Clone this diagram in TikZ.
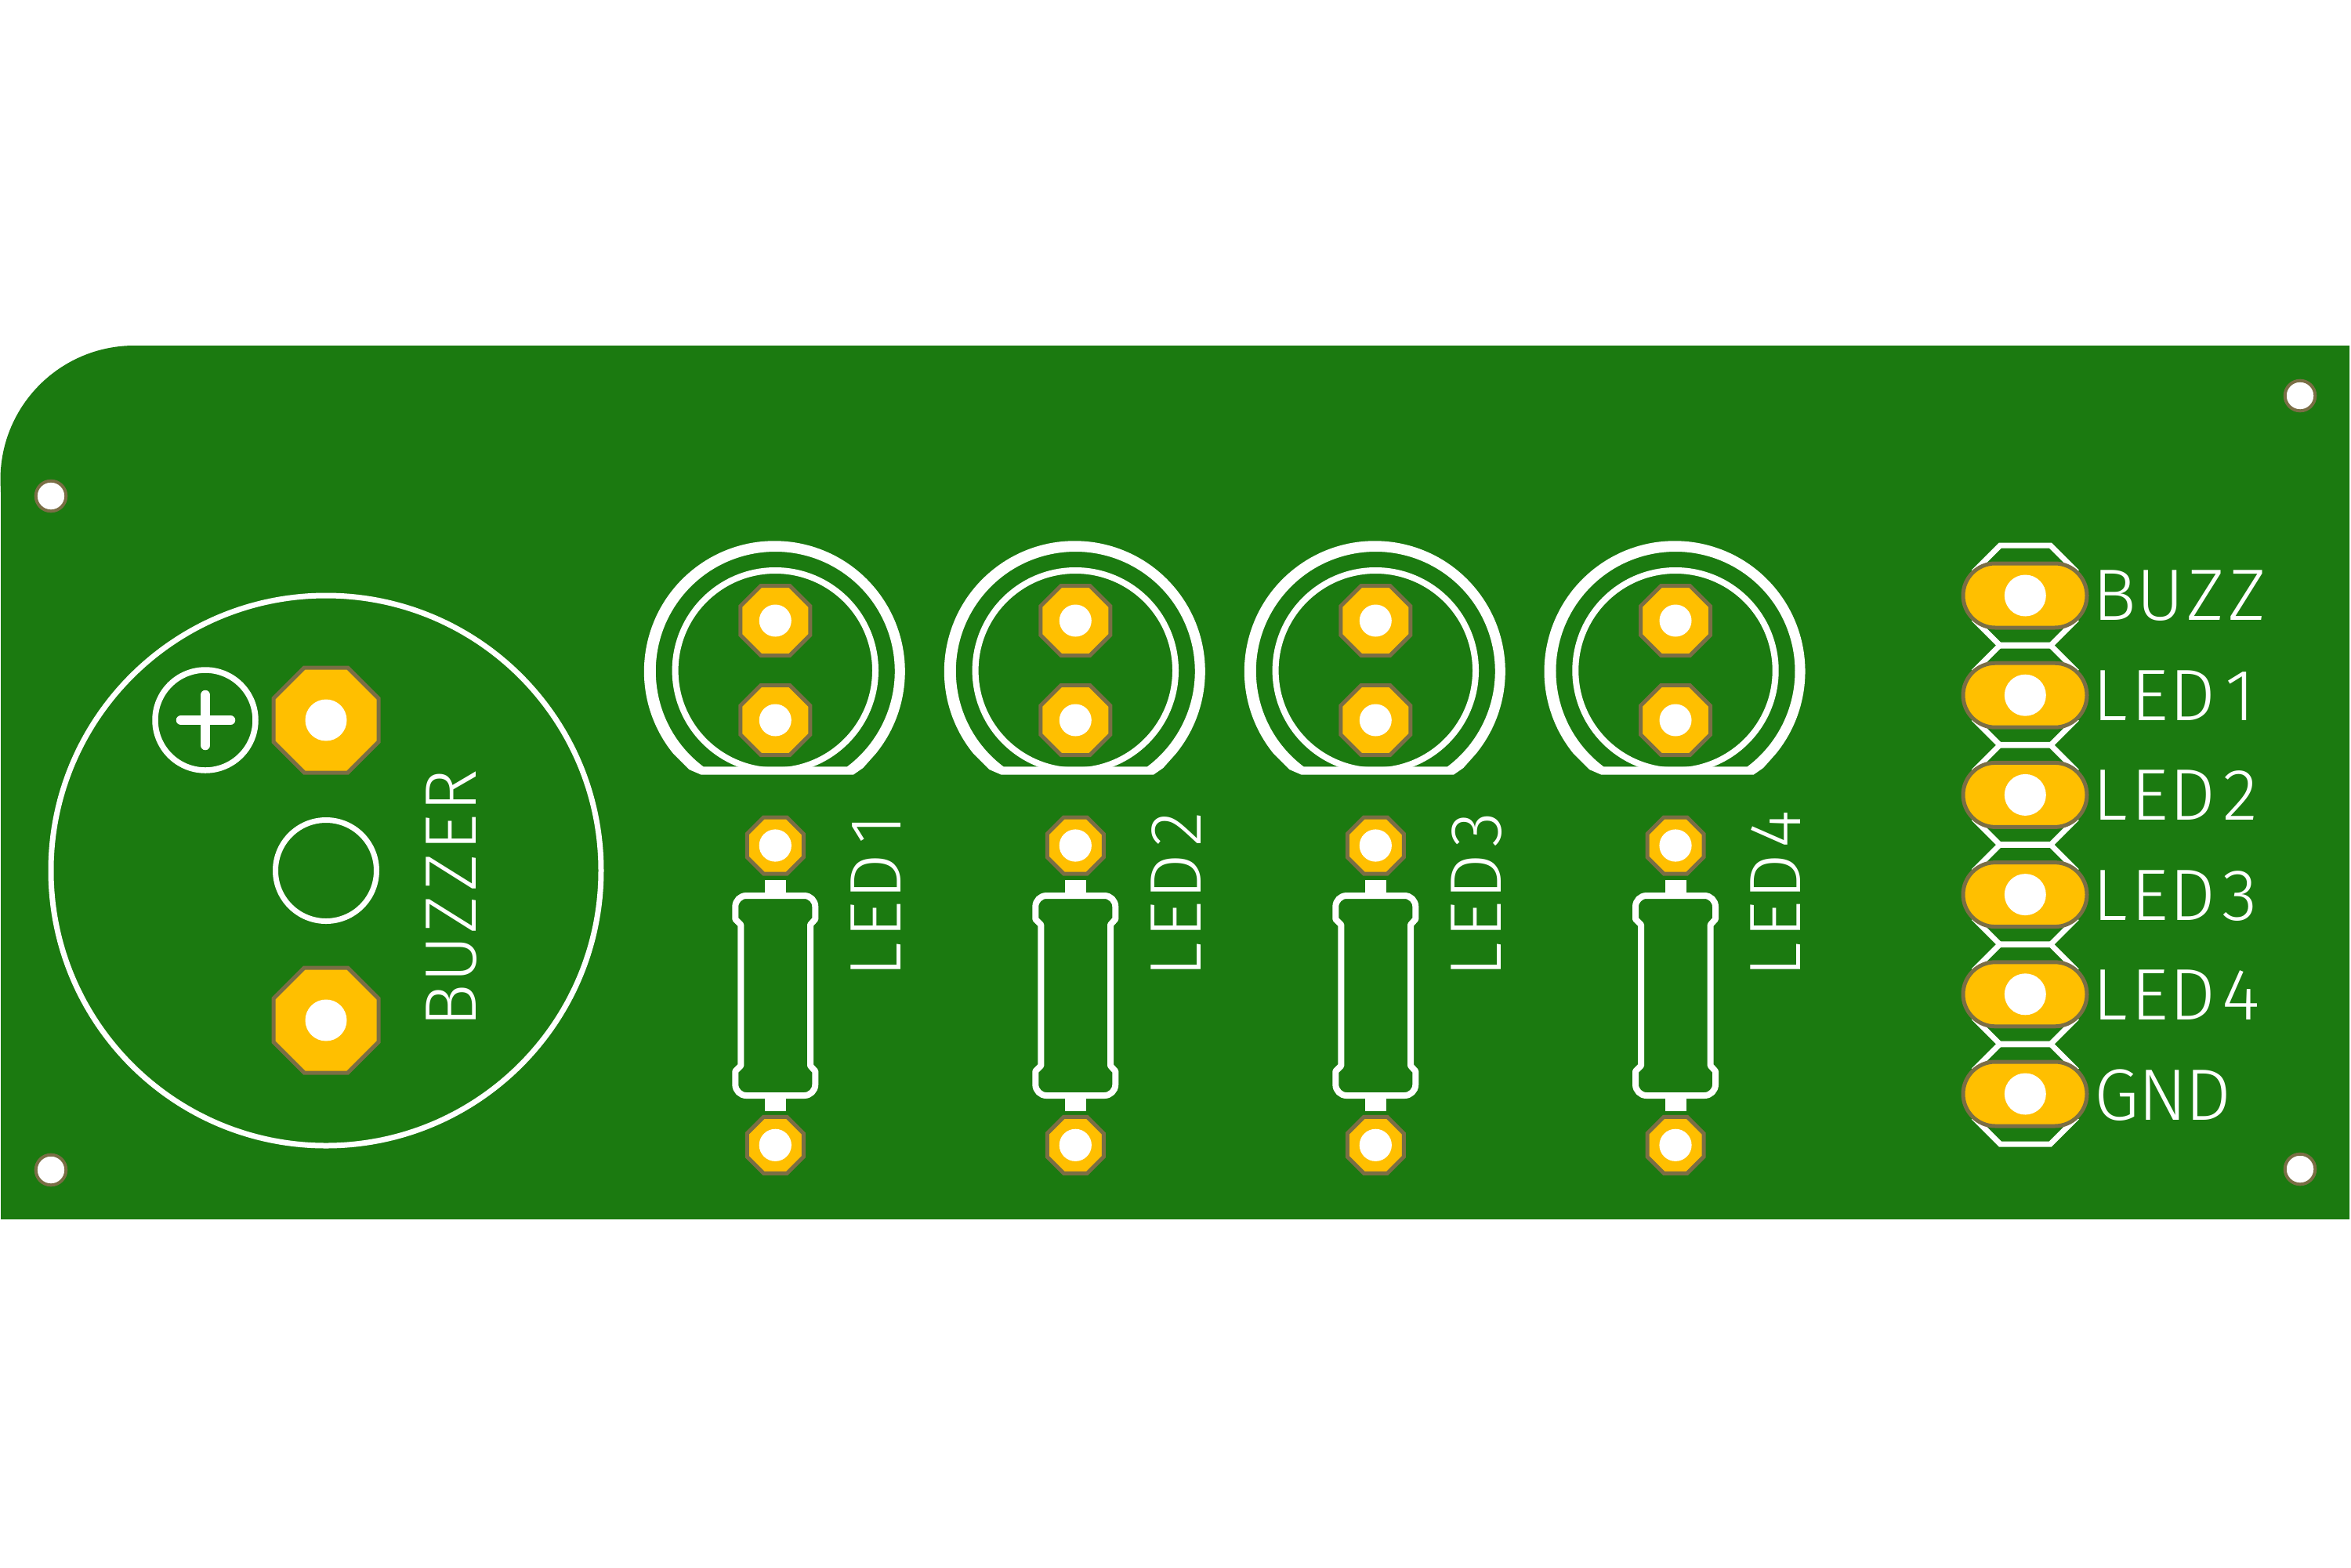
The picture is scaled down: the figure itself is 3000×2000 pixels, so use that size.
\documentclass[tikz,border=0pt]{standalone}
\usepackage{fontspec}
\newfontfamily\silk{Fira Sans Light}
\definecolor{pcb}{HTML}{1B7A10}
\definecolor{gold}{HTML}{FFBF00}
\definecolor{rim}{HTML}{7A6E45}
\tikzset{
  silkline/.style={draw=white,line width=8pt,line join=round},
  headerline/.style={draw=white,line width=7pt,line join=miter},
  padshape/.style={fill=gold,draw=rim,line width=5pt,line join=miter},
  holeshape/.style={fill=white},
  silktext/.style={text=white,inner sep=0pt,outer sep=0pt,font=\silk\fontsize{93}{93}\selectfont},
  sidetext/.style={silktext,rotate=90,anchor=base west},
  headtext/.style={silktext,anchor=base west},
}
\newcommand{\gl}[2]{\makebox[#1pt][l]{#2}}
\newcommand{\octpad}[4]{%
  \pgfmathsetmacro{\cc}{#3*0.4142}
  \draw[padshape] ({#1-\cc},{#2-#3}) -- ({#1+\cc},{#2-#3}) -- ({#1+#3},{#2-\cc}) -- ({#1+#3},{#2+\cc})
    -- ({#1+\cc},{#2+#3}) -- ({#1-\cc},{#2+#3}) -- ({#1-#3},{#2+\cc}) -- ({#1-#3},{#2-\cc}) -- cycle;
  \fill[holeshape] (#1,#2) circle[radius=#4];
}
\begin{document}
\begin{tikzpicture}[x=1pt,y=1pt,yscale=-1]
\useasboundingbox (0,0) rectangle (3000,2000);
\fill[white] (0,0) rectangle (3000,2000);
% board
\fill[pcb] (1,1556) -- (1,628) -- (0.5,612) arc[start angle=180,end angle=270,radius=171] -- (2998,441) -- (2998,1556) -- cycle;
% mounting holes
\foreach \mx/\my in {65/633,65/1493,2935/505,2935/1492}{
  \draw[draw=rim,fill=white,line width=4pt] (\mx,\my) circle[radius=19.3];
}
% buzzer
\draw[silkline,line width=7pt] (416,1111) circle[radius=351];
\draw[silkline,line width=7.5pt] (262,919) circle[radius=64];
\draw[silkline,line width=12.5pt,line cap=round] (231,919) -- (294,919);
\draw[silkline,line width=12.5pt,line cap=round] (262,887) -- (262,951);
\draw[silkline,line width=7pt] (416,1111) circle[radius=64.5];
\octpad{416}{919}{67}{26.5}
\octpad{416}{1302}{67}{26.5}
\node[sidetext] (buzzertext) at (607,1311.7) {\gl{57.7}{B}\gl{62.3}{U}\gl{54}{Z}\gl{51}{Z}\gl{50}{E}R};
% LED columns
\foreach \cx/\lab/\dw in {989.3/1/71,1372.3/2/68,1755.3/3/67,2138/4/66}{
  \begin{scope}[shift={(\cx,0)}]
    \fill[white,even odd rule]
      (-94.5,988.7) -- (-110,982) -- (-130,962)
      arc[start angle=140.8,end angle=399.2,radius=166.5]
      -- (112,980) -- (99.5,988.7) -- cycle
      (-91.8,978.3) arc[start angle=127,end angle=413,radius=152.5] -- cycle;
    \draw[silkline] (0,855.7) circle[radius=127.7];
    \octpad{0}{792}{44.5}{20.5}
    \octpad{0}{919}{44.5}{20.5}
    \fill[white] (-13.5,1122.7) rectangle (13.5,1145);
    \fill[white] (-13.5,1396) rectangle (13.5,1418);
    \draw[silkline] (-37,1143) -- (37,1143) arc[start angle=270,end angle=360,radius=14]
      -- (51,1173) -- (44.7,1180) -- (44.7,1360) -- (51,1367) -- (51,1384)
      arc[start angle=0,end angle=90,radius=14] -- (-37,1398)
      arc[start angle=90,end angle=180,radius=14] -- (-51,1367) -- (-44,1360) -- (-44,1180)
      -- (-51,1173) -- (-51,1157) arc[start angle=180,end angle=270,radius=14] -- cycle;
    \octpad{0}{1079}{36}{20.6}
    \octpad{0}{1461.3}{36}{20.6}
    \node[sidetext] at (159.7,1247) {\gl{50}{L}\gl{49}{E}\gl{\dw}{D}\lab};
  \end{scope}
}
% header
\foreach \hy in {760,887.2,1014.4,1141.6,1268.8,1396}{
  \draw[headerline] (2518.3,\hy-30) -- (2552.3,\hy-64) -- (2616.3,\hy-64) -- (2650.3,\hy-30);
  \draw[headerline] (2518.3,\hy+30) -- (2552.3,\hy+64) -- (2616.3,\hy+64) -- (2650.3,\hy+30);
}
\foreach \hy in {760,887.2,1014.4,1141.6,1268.8,1396}{
  \draw[padshape] (2546,\hy-41) -- (2622,\hy-41) arc[start angle=270,end angle=450,radius=41] -- (2546,\hy+41) arc[start angle=90,end angle=270,radius=41] -- cycle;
  \fill[holeshape] (2584.3,\hy) circle[radius=26.5];
}
\node[headtext] (buzz) at (2670,791.5) {\gl{57}{B}\gl{63}{U}\gl{53}{Z}Z};
\node[headtext] (led1) at (2670,919) {\gl{50}{L}\gl{49}{E}\gl{71}{D}1};
\node[headtext] (led2) at (2670,1046) {\gl{50}{L}\gl{49}{E}\gl{68}{D}2};
\node[headtext] (led3) at (2670,1174) {\gl{50}{L}\gl{49}{E}\gl{67}{D}3};
\node[headtext] (led4) at (2670,1301.5) {\gl{50}{L}\gl{49}{E}\gl{66}{D}4};
\node[headtext] (gnd) at (2672,1429) {\gl{56}{G}\gl{60}{N}D};
\end{tikzpicture}
\end{document}
